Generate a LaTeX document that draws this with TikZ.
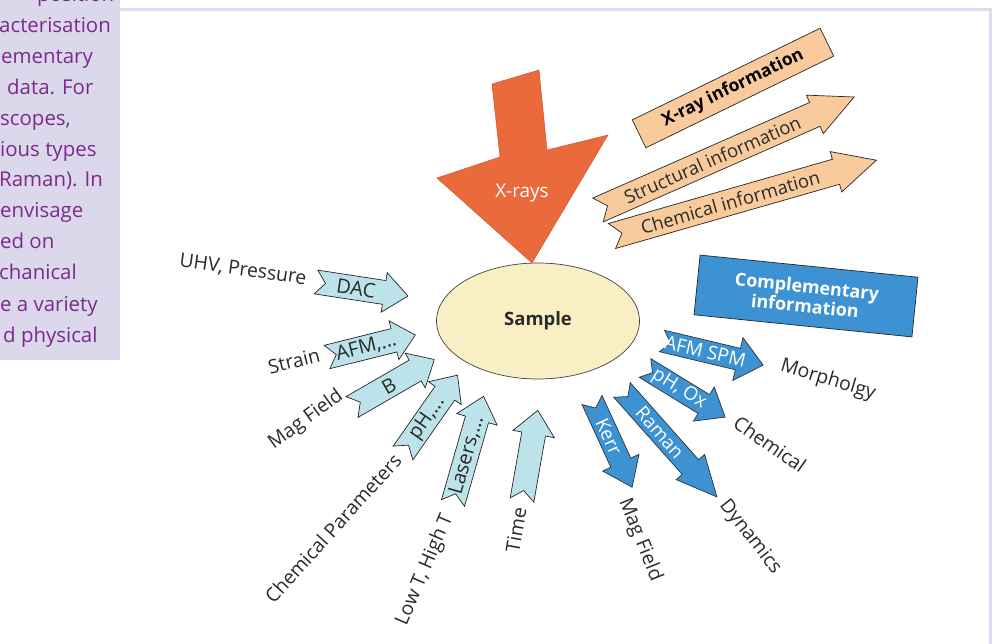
\documentclass[tikz,border=0pt]{standalone}
\usepackage{fontspec}
\setmainfont{Open Sans}
\usetikzlibrary{shapes.geometric}
\definecolor{panelbg}{HTML}{DCD8EC}
\definecolor{paneltxt}{HTML}{7B2A8C}
\definecolor{framec}{HTML}{DDDBEF}
\definecolor{xorange}{HTML}{EB6A3C}
\definecolor{peach}{HTML}{F9CA9C}
\definecolor{lblue}{HTML}{BCE3EA}
\definecolor{dblue}{HTML}{3C92D2}
\definecolor{samplefill}{HTML}{F8F0C4}
\definecolor{labeltxt}{HTML}{2A2A2A}
\tikzset{
  lab/.style={text=labeltxt, font=\fontsize{19.5}{22}\selectfont, inner sep=0pt},
  inarrow/.style={draw=black!85, line width=0.7bp, fill=lblue, line join=miter},
  inarrow text/.style={text=labeltxt, font=\fontsize{20}{22}\selectfont, inner sep=0pt},
  outarrow/.style={draw=black!80, line width=0.7bp, fill=dblue, line join=miter},
  outarrow text/.style={text=white, font=\fontsize{19}{21}\selectfont, inner sep=0pt},
  infoarrow/.style={draw=black!85, line width=0.7bp, fill=peach, line join=miter},
  infoarrow text/.style={text=labeltxt, font=\fontsize{18.5}{21}\selectfont, inner sep=0pt},
  paneltext/.style={text=paneltxt, font=\fontsize{20.5}{25}\selectfont, anchor=base west, inner sep=0pt}
}
% #1 name, #2 tail, #3 angle, #4 length, #5 half width, #6 head half width, #7 head length, #8 style, #9 text
\newcommand{\blockarrow}[9]{%
  \begin{scope}[shift={#2},rotate=#3]
    \draw[#8] (0,-#5) -- ({#4-#7},-#5) -- ({#4-#7},-#6) -- (#4,0) -- ({#4-#7},#6) -- ({#4-#7},#5) -- (0,#5) -- ({0.8*#5},0) -- cycle;
    \node[transform shape, #8 text] (#1) at ({(#4-#7)/2+0.5*#5},0) {#9};
  \end{scope}}
\begin{document}
\begin{tikzpicture}[x=1bp,y=-1bp]
\useasboundingbox (0,0) rectangle (995,644);
\fill[white] (0,0) rectangle (995,644);
% side panel
\begin{scope}
  \clip (0,0) rectangle (120,360);
  \fill[panelbg] (0,0) rectangle (120,360);
  \node[paneltext] (p0) at (37,2) {position};
  \node[paneltext] (p1) at (-1,33) {acterisation};
  \node[paneltext] (p2) at (1,64) {ementary};
  \node[paneltext] (p3) at (7,95) {data. For};
  \node[paneltext] (p4) at (0,126) {scopes,};
  \node[paneltext] (p5) at (0,157) {ious types};
  \node[paneltext] (p6) at (-1,187) {Raman). In};
  \node[paneltext] (p7) at (0,218) {envisage};
  \node[paneltext] (p8) at (0,249) {ed on};
  \node[paneltext] (p9) at (-1,280) {chanical};
  \node[paneltext] (p10) at (0,311) {e a variety};
  \node[paneltext] (p11) at (3,342) {d physical};
\end{scope}
% frame
\draw[framec, line width=3bp] (120,10) -- (990,10) -- (990,644);
% X-rays arrow
\draw[xorange!85!black, line width=0.5bp, fill=xorange, line join=miter]
  (492,84) -- (539,70) -- (547,150) -- (608,135) -- (532,263) -- (437,178) -- (500,157) -- cycle;
\node[text=white, font=\fontsize{19}{22}\selectfont] (xrays) at (522,193) {X-rays};
% sample
\node[ellipse, draw=black!75, line width=0.7bp, fill=samplefill, minimum width=203bp, minimum height=116bp,
      font=\fontsize{18.5}{21}\selectfont\bfseries, text=labeltxt] (sample) at (538,321) {Sample};
% X-ray information box
\node[draw=black!85, line width=0.7bp, fill=peach, rotate=26, minimum width=209bp, minimum height=31bp,
      font=\fontsize{17.5}{20}\selectfont\bfseries, text=black, inner sep=0pt] (xinfo) at (733,88) {X-ray information};
% info arrows
\blockarrow{struct}{(598,210)}{23.8}{280}{13}{21}{43}{infoarrow}{Structural information}
\blockarrow{chem}{(612,236)}{16}{275}{13}{21}{42}{infoarrow}{Chemical information}
% complementary box
\node[draw=black!85, line width=0.7bp, fill=dblue, rotate=-5.8, minimum width=219bp, minimum height=60bp,
      font=\fontsize{18}{20}\selectfont\bfseries, text=white, align=center, inner sep=0pt] (comp) at (806,296) {Complementary\\information};
% input arrows
\blockarrow{dac}{(316,282)}{-8.7}{93}{12}{20}{24}{inarrow}{DAC}
\blockarrow{afm}{(327,357)}{14}{91}{12}{20}{22}{inarrow}{AFM,...}
\blockarrow{bfield}{(352,407)}{30}{95}{12}{20}{22}{inarrow}{B}
\blockarrow{ph}{(403,453)}{55}{95}{12}{20}{22}{inarrow}{pH,...}
\blockarrow{lasers}{(453,503)}{74}{111}{12}{21}{24}{inarrow}{Lasers,...}
\blockarrow{time}{(522,500)}{80}{91}{12}{21}{24}{inarrow}{}
% output arrows
\blockarrow{spm}{(662,341)}{-13.4}{104}{11}{22}{26}{outarrow}{AFM SPM}
\blockarrow{phox}{(645,368)}{-31.5}{94}{11}{20}{25}{outarrow}{pH, Ox}
\blockarrow{raman}{(622,390)}{-48.4}{143}{11}{19}{40}{outarrow}{Raman}
\blockarrow{kerr}{(592,400)}{-65.3}{96}{11}{20}{27}{outarrow}{Kerr}
% labels
\node[lab, rotate=-8] (uhv) at (243,270) {UHV, Pressure};
\node[lab, rotate=14] (strain) at (294,361) {Strain};
\node[lab, rotate=36] (magl) at (306,420) {Mag Field};
\node[lab, rotate=48] (chempar) at (333,528) {Chemical Parameters};
\node[lab, rotate=67] (lowt) at (425,570) {Low T, High T};
\node[lab, rotate=80] (timel) at (516,530) {Time};
\node[lab, rotate=-68] (magr) at (640,540) {Mag Field};
\node[lab, rotate=-52] (dyn) at (750,537) {Dynamics};
\node[lab, rotate=-35] (cheml) at (770,444) {Chemical};
\node[lab, rotate=-17] (morph) at (828,380) {Morpholgy};
\end{tikzpicture}
\end{document}
